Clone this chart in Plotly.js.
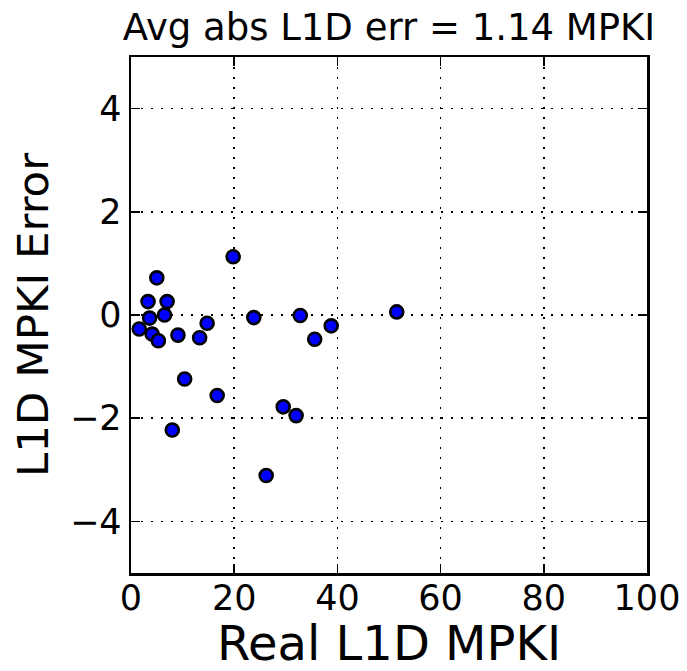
<!DOCTYPE html>
<html>
<head>
<meta charset="utf-8">
<script src="https://cdn.plot.ly/plotly-3.0.1.min.js"></script>
<style>
  html, body { margin: 0; padding: 0; background: #ffffff; }
  #chart { width: 687px; height: 671px; }
</style>
</head>
<body>
<div id="chart"></div>
<script>
// Data
var realMPKI = [19.8, 5.0, 3.3, 7.0, 6.5, 3.6, 1.6, 4.1, 5.3, 9.1, 13.3, 14.75, 10.4, 16.7, 8.0, 23.8, 32.8, 38.8, 35.6, 51.5, 29.5, 32.0, 26.2];
var mpkiError = [1.13, 0.72, 0.26, 0.26, 0.0, -0.06, -0.27, -0.37, -0.50, -0.39, -0.44, -0.16, -1.24, -1.56, -2.23, -0.05, -0.01, -0.21, -0.47, 0.06, -1.78, -1.95, -3.11];
var xTicks = [0, 20, 40, 60, 80, 100];
var yTicks = [-4, -2, 0, 2, 4];
var chartTitle = "Avg abs L1D err = 1.14 MPKI";
var xTitle = "Real L1D MPKI";
var yTitle = "L1D MPKI Error";

var font = "DejaVu Sans, Liberation Sans, sans-serif";

var trace = {
  type: "scatter",
  mode: "markers",
  x: realMPKI,
  y: mpkiError,
  marker: { color: "#0000ff", size: 13, line: { color: "#000000", width: 2.6 } },
  hoverinfo: "x+y"
};

var axisCommon = {
  showline: true, linecolor: "#000000", linewidth: 2.5, mirror: "ticks",
  ticks: "inside", ticklen: 9, tickwidth: 1.5, tickcolor: "#000000",
  showgrid: true, gridcolor: "#000000", gridwidth: 1.6, griddash: "2px,8px",
  zeroline: false,
  tickfont: { family: font, size: 35, color: "#000000" }
};

var layout = {
  width: 687, height: 671,
  margin: { l: 130.5, r: 40, t: 57, b: 98, pad: 0 },
  paper_bgcolor: "#ffffff", plot_bgcolor: "#ffffff",
  showlegend: false,
  font: { family: font, color: "#000000" },
  title: {
    text: chartTitle,
    font: { family: font, size: 37, color: "#000000" },
    x: 0.5, xref: "paper", xanchor: "center",
    y: 1 - 27 / 671, yref: "container", yanchor: "middle"
  },
  xaxis: Object.assign({}, axisCommon, {
    range: [0, 100], tickvals: xTicks, ticktext: xTicks.map(String),
    ticklabelstandoff: -8,
    title: { text: xTitle, font: { family: font, size: 48, color: "#000000" }, standoff: 6 },
    automargin: false
  }),
  yaxis: Object.assign({}, axisCommon, {
    range: [-5, 5], tickvals: yTicks,
    ticktext: yTicks.map(function (v) { return v < 0 ? "\u2212" + Math.abs(v) : String(v); }),
    ticklabelstandoff: 0,
    title: { text: yTitle, font: { family: font, size: 43.5, color: "#000000" }, standoff: 8 },
    automargin: false
  })
};

Plotly.newPlot("chart", [trace], layout, { displayModeBar: false, staticPlot: true });
</script>
</body>
</html>
